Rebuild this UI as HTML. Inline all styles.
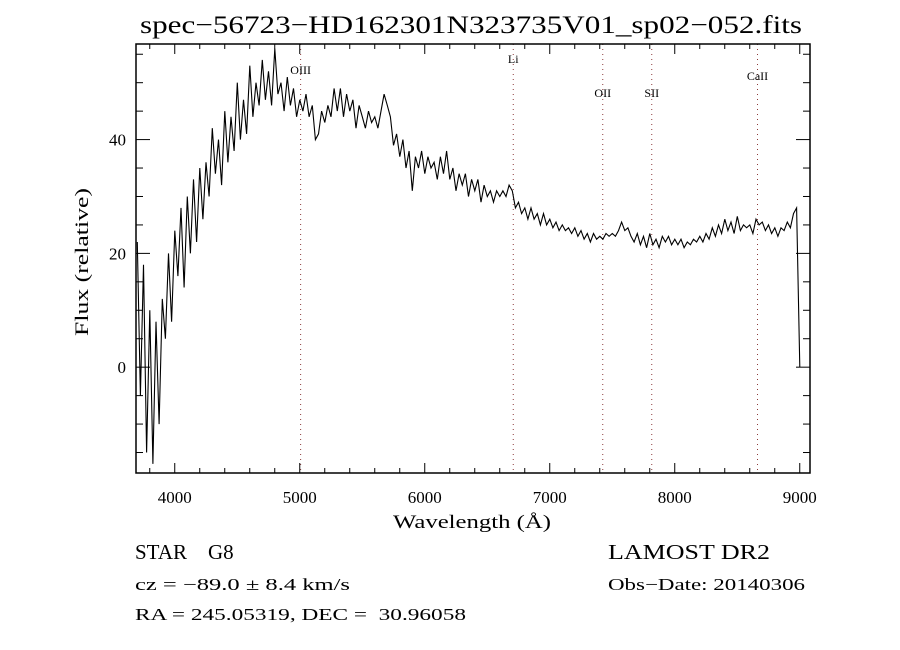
<!DOCTYPE html>
<html><head><meta charset="utf-8"><style>
html,body{margin:0;padding:0;background:#fff;}
svg{display:block;}
text{font-family:"Liberation Serif",serif;fill:#000;white-space:pre;}
</style></head><body>
<svg id="chart" width="900" height="650" viewBox="0 0 900 650" xmlns="http://www.w3.org/2000/svg">
<rect width="900" height="650" fill="#fff"/>
<text x="140" y="33" font-size="25" textLength="662" lengthAdjust="spacingAndGlyphs">spec−56723−HD162301N323735V01_sp02−052.fits</text>
<g id="lines"></g>
<g id="ticks"></g>
<path id="spec" fill="none" stroke="#000" stroke-width="1.1"/>
<rect x="136" y="44" width="674" height="429" fill="none" stroke="#000" stroke-width="1.5"/>
<text x="393" y="528" font-size="19" textLength="158" lengthAdjust="spacingAndGlyphs">Wavelength (Å)</text>
<text transform="translate(88,336) rotate(-90)" font-size="19" textLength="148" lengthAdjust="spacingAndGlyphs">Flux (relative)</text>
<text x="135" y="559" font-size="21" xml:space="preserve">STAR    G8</text>
<text x="608" y="559" font-size="21" textLength="162" lengthAdjust="spacingAndGlyphs">LAMOST DR2</text>
<text x="135" y="590" font-size="17" textLength="215" lengthAdjust="spacingAndGlyphs">cz = −89.0 ± 8.4 km/s</text>
<text x="608" y="590" font-size="17" textLength="197" lengthAdjust="spacingAndGlyphs">Obs−Date: 20140306</text>
<text x="135" y="620" font-size="17" xml:space="preserve" textLength="331" lengthAdjust="spacingAndGlyphs">RA = 245.05319, DEC =  30.96058</text>
</svg>
<script>
const xTickLabels = [4000,5000,6000,7000,8000,9000];
const yTickLabels = [0,20,40];
const lineNames = ["OIII","Li","OII","SII","CaII"];
const lineWaves = [5007,6708,7424,7816,8662];
const lineLabelFlux = [51.5,53.5,47.5,47.5,50.5];
const waveStart = 3700, waveStep = 25;
const flux = [22,-5,18,-15,10,-17,8,-10,12,5,20,8,24,16,28,14,30,20,33,22,35,26,36,30,42,34,40,32,45,36,44,38,50,40,47,41,53,44,50,46,54,47,52,46,56,48,50,45,51,46,49,44,47,45,48,44,46,40,41,45,43,46,44,49,45,49,44,48,45,47,42,46,44,42,45,43,44,42,45,48,46,44,39,41,37,40,35,38,31,37,35,38,34,37,35,36,33,37,34,38,33,35,31,34,32,34,30,33,31,33,29,32,30,31,29,31,30,31,30,32,31,28,29,27,28,26,28,26,27,25,27,25,26,24.5,25.5,24,25,24,24.5,23.5,24.5,23,24,22.5,23.5,22,23.5,22.5,23,22.5,23.5,23,23.5,23,24,25.5,24,24.5,23,22,23.5,21.5,23,21,23.5,21.5,22.5,21,23,22,23,21.5,22.5,21.5,22.5,21,22,21.5,22.5,22,23,22,23.5,22.5,24.5,23,25,23.5,26,24,25.5,23.5,26.5,24,25,24.5,25,23.5,26,25,25.5,24,25,23.5,24.5,23,24.5,24,25.5,24.5,27,28,0];
const waves = flux.map((_, i) => waveStart + waveStep * i);

const X0=136, X1=810, Y0=44, Y1=473;
const xMin=3690, xMax=9082, yMin=-18.6, yMax=56.8;
const sx = w => X0 + (w - xMin) / (xMax - xMin) * (X1 - X0);
const sy = f => Y1 - (f - yMin) / (yMax - yMin) * (Y1 - Y0);
const NS = "http://www.w3.org/2000/svg";
function mk(tag, attrs, parent){const e=document.createElementNS(NS,tag);for(const k in attrs)e.setAttribute(k,attrs[k]);parent.appendChild(e);return e;}

let d = "";
waves.forEach((w,i)=>{d += (i?"L":"M") + sx(w).toFixed(1) + "," + sy(flux[i]).toFixed(1);});
document.getElementById("spec").setAttribute("d", d);

const tg = document.getElementById("ticks");
const svg = document.getElementById("chart");
for(let w=3800; w<=9000; w+=200){
  const x=sx(w), major = w%1000===0, L = major?10:5;
  const t1 = mk("line",{x1:x,x2:x,y1:Y1,y2:Y1-L,stroke:"#000","stroke-width":1},tg);
  
  
  const t2 = mk("line",{x1:x,x2:x,y1:Y0,y2:Y0+L,stroke:"#000","stroke-width":1},tg);
  
  
}
xTickLabels.forEach(w=>{
  const t = mk("text",{x:sx(w),y:503,"font-size":17,"text-anchor":"middle"},svg);
  t.textContent = w;
  
  
});
for(let f=-15; f<=55; f+=5){
  const y=sy(f), major = f%20===0, L = major?14:7;
  const t1 = mk("line",{x1:X0,x2:X0+L,y1:y,y2:y,stroke:"#000","stroke-width":1},tg);
  
  
  const t2 = mk("line",{x1:X1,x2:X1-L,y1:y,y2:y,stroke:"#000","stroke-width":1},tg);
  
  
}
yTickLabels.forEach(f=>{
  const t = mk("text",{x:126,y:sy(f)+6,"font-size":17,"text-anchor":"end"},svg);
  t.textContent = f;
  
  
});
const lg = document.getElementById("lines");
lineWaves.forEach((w,i)=>{
  const x = sx(w);
  const l = mk("line",{x1:x,x2:x,y1:Y0,y2:Y1,stroke:"#8b3a3a","stroke-width":1,"stroke-dasharray":"1,4"},lg);
  
  
  const t = mk("text",{x:x,y:sy(lineLabelFlux[i]),"font-size":12,"text-anchor":"middle"},lg);
  t.textContent = lineNames[i];
  
  
});
</script>
</body></html>
